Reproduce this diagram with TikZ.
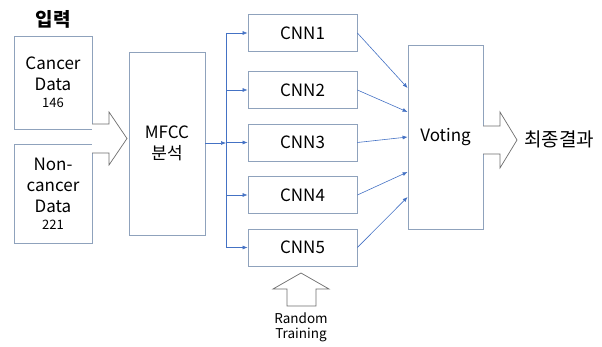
\documentclass[tikz,border=0pt]{standalone}
\usepackage{fontspec}
\setmainfont{Noto Sans CJK KR}
\usepackage{xcolor}
\usepackage{tikz}
\usetikzlibrary{arrows.meta, positioning, calc}
\definecolor{boxedge}{HTML}{8FA2BC}
\definecolor{linkblue}{HTML}{4472C4}
\definecolor{fatgray}{HTML}{6E6E6E}

\begin{document}
\begin{tikzpicture}[x=1pt, y=-1pt,
  box/.style={draw=boxedge, line width=0.8pt, fill=white, align=center, inner sep=0pt,
    font=\fontsize{17}{21}\selectfont},
  cnnbox/.style={box, minimum width=109pt, minimum height=37pt},
  link/.style={draw=linkblue, line width=0.6pt, -{Latex[length=5pt, width=4pt]}},
  fatarrow/.style={draw=fatgray, line width=0.7pt, fill=white, line join=miter}]
  \useasboundingbox (0,0) rectangle (602,347);

  % Input data
  \node[font=\fontsize{19}{19}\selectfont\bfseries] (title) at (53,19) {입력};
  \node[box, minimum width=78pt, minimum height=93pt] (cancer) at (53,82.5)
    {Cancer\\Data\\[-4pt]{\fontsize{13}{15}\selectfont 146}};
  \node[box, minimum width=78pt, minimum height=99pt] (noncancer) at (53,193.5)
    {Non-\\cancer\\Data\\[-4pt]{\fontsize{13}{15}\selectfont 221}};

  % Feature extraction
  \node[box, minimum width=76pt, minimum height=183pt] (mfcc) at (167,143.5) {MFCC\\분석};
  \draw[fatarrow] (92,124) -- (109,124) -- (109,112) -- (127,138.5) -- (109,165)
    -- (109,153) -- (92,153);

  % Ensemble of CNNs
  \node[cnnbox] (cnn1) at (302.5,33) {CNN1};
  \node[cnnbox] (cnn2) at (302.5,90) {CNN2};
  \node[cnnbox] (cnn3) at (302.5,142.5) {CNN3};
  \node[cnnbox] (cnn4) at (302.5,195) {CNN4};
  \node[cnnbox] (cnn5) at (302.5,247.5) {CNN5};

  % Distribution bus
  \coordinate (bus) at (226,143);
  \draw[draw=linkblue, line width=0.6pt] (cnn1.west -| bus) -- (cnn5.west -| bus);
  \draw[link] (mfcc.east |- bus) -- (bus);
  \foreach \i in {1,...,5}
    \draw[link] (cnn\i.west -| bus) -- (cnn\i.west);

  % Voting
  \node[box, minimum width=75pt, minimum height=184pt] (voting) at (445.5,137) {Voting};
  \foreach \i/\y in {1/88, 2/112, 3/137, 4/172, 5/197}
    \draw[link] (cnn\i.east) -- (voting.west |- 0,\y);

  % Final result
  \draw[fatarrow] (483,126) -- (500,126) -- (500,112) -- (517,140) -- (500,168)
    -- (500,154) -- (483,154);
  \node[font=\fontsize{19}{19}\selectfont] (result) at (559,139) {최종결과};

  % Random training input
  \draw[fatarrow] (287,306) -- (287,289) -- (273,289) -- (301,273) -- (329,289)
    -- (316,289) -- (316,306) -- cycle;
  \node[align=center, font=\fontsize{13.5}{15}\selectfont] (training) at (301,327)
    {Random\\Training};
\end{tikzpicture}
\end{document}
